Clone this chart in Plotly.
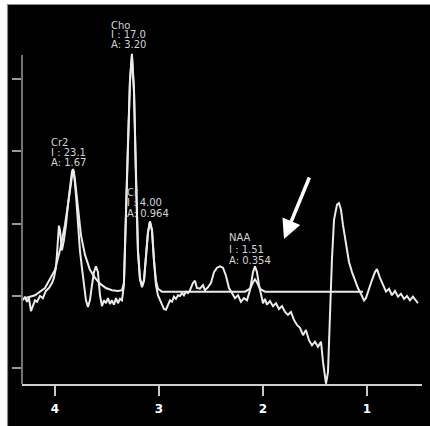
import plotly.graph_objects as go

# ---------------- data ----------------
raw_ppm = [4.308, 4.289, 4.269, 4.250, 4.231, 4.212, 4.192, 4.173, 4.144, 4.116,
           4.087, 4.058, 4.029, 4.010, 3.991, 3.981, 3.971, 3.962, 3.952, 3.942,
           3.933, 3.914, 3.894, 3.875, 3.856, 3.837, 3.827, 3.817, 3.798, 3.779,
           3.760, 3.741, 3.721, 3.702, 3.683, 3.664, 3.644, 3.625, 3.606, 3.587,
           3.567, 3.548, 3.529, 3.510, 3.490, 3.471, 3.452, 3.433, 3.413, 3.394,
           3.375, 3.356, 3.337, 3.317, 3.298, 3.279, 3.260, 3.240, 3.221, 3.202,
           3.183, 3.163, 3.144, 3.125, 3.106, 3.087, 3.067, 3.048, 3.029, 3.010,
           2.990, 2.971, 2.952, 2.933, 2.913, 2.894, 2.875, 2.856, 2.837, 2.817,
           2.798, 2.779, 2.760, 2.740, 2.721, 2.702, 2.673, 2.654, 2.635, 2.606,
           2.577, 2.558, 2.529, 2.500, 2.471, 2.442, 2.413, 2.385, 2.356, 2.327,
           2.298, 2.269, 2.240, 2.212, 2.183, 2.154, 2.125, 2.096, 2.077, 2.058,
           2.038, 2.019, 2.000, 1.981, 1.962, 1.933, 1.904, 1.875, 1.846, 1.817,
           1.788, 1.760, 1.731, 1.702, 1.673, 1.644, 1.615, 1.587, 1.558, 1.529,
           1.500, 1.471, 1.442, 1.423, 1.394, 1.375, 1.356, 1.337, 1.317, 1.288,
           1.269, 1.250, 1.231, 1.202, 1.173, 1.144, 1.115, 1.087, 1.058, 1.029,
           1.010, 0.981, 0.952, 0.923, 0.904, 0.875, 0.846, 0.817, 0.788, 0.760,
           0.731, 0.702, 0.673, 0.644, 0.615, 0.587, 0.558, 0.529, 0.510]
raw_signal = [-0.06, -0.01, -0.08, -0.03, -0.21, -0.12, -0.06, -0.08, 0.00, -0.03,
              0.07, 0.11, 0.18, 0.25, 0.39, 0.57, 0.80, 0.97, 0.91, 0.70,
              0.63, 0.77, 0.98, 1.26, 1.53, 1.71, 1.75, 1.71, 1.39, 0.98,
              0.63, 0.39, 0.15, -0.06, -0.15, -0.06, 0.15, 0.33, 0.41, 0.33,
              0.01, -0.14, -0.06, -0.10, -0.03, -0.11, -0.06, -0.12, -0.03, -0.10,
              -0.04, -0.06, 0.15, 1.05, 2.15, 2.98, 3.34, 2.84, 1.60, 0.63,
              0.25, 0.14, 0.22, 0.52, 0.88, 1.03, 0.91, 0.50, 0.15, 0.01,
              -0.06, -0.12, -0.18, -0.19, -0.11, -0.06, -0.08, -0.01, -0.04, 0.01,
              0.00, 0.04, 0.01, 0.06, 0.04, 0.08, 0.18, 0.21, 0.11, 0.10,
              0.15, 0.08, 0.12, 0.18, 0.33, 0.39, 0.41, 0.39, 0.28, 0.11,
              0.04, -0.03, 0.01, -0.08, -0.03, -0.06, 0.08, 0.33, 0.41, 0.33,
              0.15, 0.01, -0.10, -0.04, -0.12, -0.07, -0.14, -0.10, -0.18, -0.14,
              -0.22, -0.26, -0.22, -0.33, -0.40, -0.44, -0.54, -0.47, -0.61, -0.68,
              -0.63, -0.70, -0.63, -0.91, -1.21, -1.05, -0.19, 0.50, 1.05, 1.26,
              1.28, 1.19, 0.98, 0.70, 0.47, 0.33, 0.22, 0.11, 0.03, -0.06,
              -0.03, 0.11, 0.22, 0.33, 0.37, 0.25, 0.15, 0.06, 0.10, 0.01,
              0.07, -0.01, 0.03, -0.04, 0.00, -0.06, -0.01, -0.07, -0.10]

fit_ppm = [4.289, 4.192, 4.096, 4.000, 3.952, 3.904, 3.875, 3.846, 3.827, 3.808,
           3.779, 3.750, 3.712, 3.664, 3.615, 3.567, 3.510, 3.452, 3.394, 3.356,
           3.337, 3.317, 3.298, 3.279, 3.260, 3.240, 3.221, 3.202, 3.183, 3.163,
           3.144, 3.125, 3.106, 3.087, 3.067, 3.048, 3.029, 3.010, 2.971, 2.173,
           2.125, 2.096, 2.077, 2.058, 2.029, 1.981, 1.039]
fit_signal = [-0.03, 0.01, 0.11, 0.36, 0.63, 0.98, 1.26, 1.57, 1.75, 1.60,
              1.19, 0.84, 0.57, 0.36, 0.25, 0.17, 0.11, 0.08, 0.07, 0.08,
              0.18, 1.02, 2.12, 2.95, 3.32, 2.81, 1.57, 0.61, 0.23, 0.12,
              0.21, 0.51, 0.87, 1.02, 0.90, 0.48, 0.21, 0.10, 0.06, 0.06,
              0.10, 0.19, 0.23, 0.19, 0.10, 0.06, 0.06]

x_tick_vals = [4, 3, 2, 1]
x_tick_text = ["4", "3", "2", "1"]
y_tick_vals = [-1, 0, 1, 2, 3]

peak_labels = {
    "Cho": ["Cho", "I : 17.0", "A: 3.20"],
    "Cr2": ["Cr2", "I : 23.1", "A: 1.67"],
    "Cr":  ["Cr", "I : 4.00", "A: 0.964"],
    "NAA": ["NAA", "I : 1.51", "A: 0.354"],
}

# ---------------- layout helpers (pixel -> axis) ----------------
W, H = 430, 426
ML, MR, MT, MB = 22, 8, 10, 42
X_RANGE = [4.317, 0.471]
Y_RANGE = [-1.214, 3.945]
pw, ph = W - ML - MR, H - MT - MB


def px_x(px):
    return X_RANGE[0] + (px - ML) / pw * (X_RANGE[1] - X_RANGE[0])


def px_y(py):
    return Y_RANGE[1] - (py - MT) / ph * (Y_RANGE[1] - Y_RANGE[0])


def paper_x(px):
    return (px - ML) / pw


def paper_y(py):
    return (H - MB - py) / ph


LINE = "#ebebeb"
TXT = "#d4d4d4"

fig = go.Figure()
fig.add_trace(go.Scatter(x=fit_ppm, y=fit_signal, mode="lines",
                         line=dict(color=LINE, width=2), hoverinfo="skip"))
fig.add_trace(go.Scatter(x=raw_ppm, y=raw_signal, mode="lines",
                         line=dict(color=LINE, width=2), hoverinfo="skip"))

# background panel with white margin strips top/left
fig.add_shape(type="rect", xref="paper", yref="paper",
              x0=paper_x(7.5), x1=paper_x(445), y0=paper_y(445), y1=paper_y(4.5),
              fillcolor="black", line=dict(color="#8c8c8c", width=1.2), layer="below")
# vertical axis line
fig.add_shape(type="line", xref="paper", yref="y",
              x0=0, x1=0, y0=Y_RANGE[0], y1=px_y(55),
              line=dict(color="#9a9a9a", width=1.5))

label_pos = {
    "Cho": (110, [25, 34.5, 44]),
    "Cr2": (50, [142, 152, 162.5]),
    "Cr":  (126, [192, 202.5, 213]),
    "NAA": (228, [237, 249, 260.5]),
}
for key, lines in peak_labels.items():
    lx, ys = label_pos[key]
    for t, yy in zip(lines, ys):
        fig.add_annotation(x=px_x(lx), y=px_y(yy), xref="x", yref="y",
                           text=t, showarrow=False, xanchor="left", yanchor="middle",
                           font=dict(family="DejaVu Sans", size=10, color=TXT),
                           borderpad=0)

# arrow
fig.add_annotation(x=px_x(284), y=px_y(239), ax=px_x(310), ay=px_y(176),
                   xref="x", yref="y", axref="x", ayref="y", text="",
                   showarrow=True, arrowhead=2, arrowsize=1.1, arrowwidth=3.5,
                   arrowcolor="white", standoff=0)

fig.update_layout(
    width=W, height=H,
    margin=dict(l=ML, r=MR, t=MT, b=MB),
    paper_bgcolor="white", plot_bgcolor="black",
    showlegend=False,
    xaxis=dict(range=X_RANGE, tickvals=x_tick_vals, ticktext=x_tick_text,
               showgrid=False, zeroline=False, showline=True, linecolor="#d0d0d0",
               linewidth=2, ticks="outside", ticklen=10, tickwidth=1.5, tickcolor="#c8c8c8",
               ticklabelstandoff=3,
               tickfont=dict(family="DejaVu Sans", size=12, color="white", weight="bold")),
    yaxis=dict(range=Y_RANGE, tickvals=y_tick_vals, showticklabels=False,
               showgrid=False, zeroline=False, showline=False, ticks="outside",
               ticklen=9, tickwidth=1.5, tickcolor="#9a9a9a"),
)

fig.write_html("out.html", config={"displayModeBar": False},
               post_script="document.body.style.margin='0';document.body.style.overflow='hidden';")
